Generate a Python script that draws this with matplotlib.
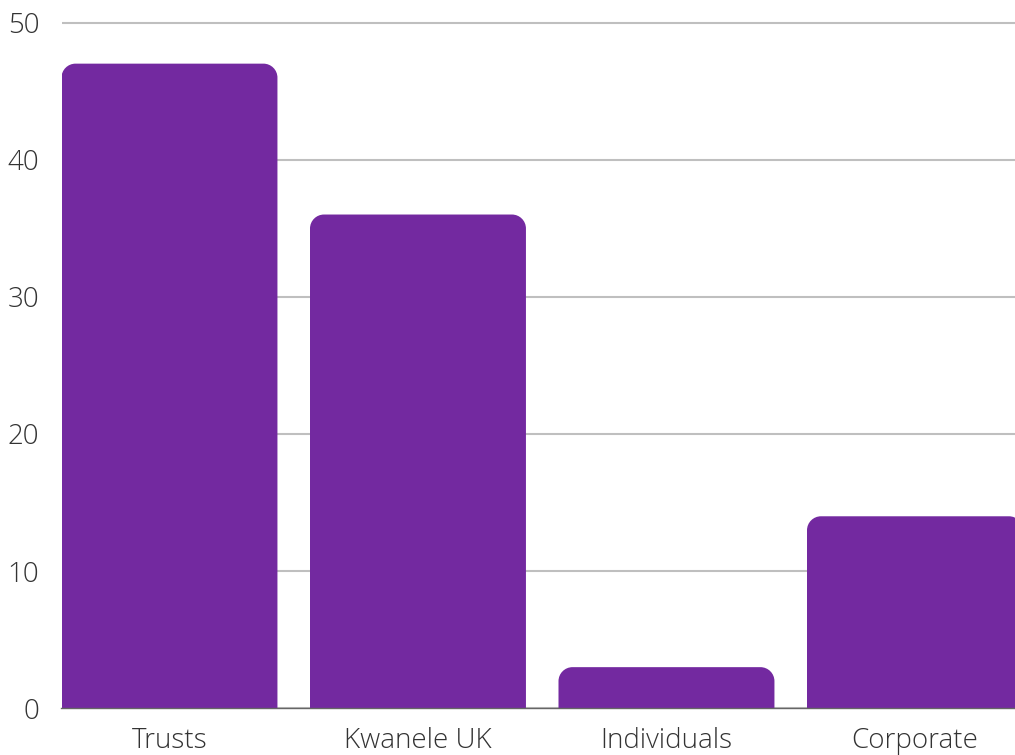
import matplotlib
matplotlib.use('Agg')
import matplotlib.pyplot as plt
from matplotlib.path import Path
from matplotlib.patches import PathPatch

categories = ['Trusts', 'Kwanele UK', 'Individuals', 'Corporate']
values = [47, 36, 3, 14]
yticks = [0, 10, 20, 30, 40, 50]

plt.rcParams['font.family'] = ['Open Sans', 'DejaVu Sans']

W, H = 1015, 755
fig = plt.figure(figsize=(W / 100, H / 100), dpi=100)
left_px, right_px = 61.5, 1015
bottom_px, top_px = H - 708.3, H - 10
ax = fig.add_axes([left_px / W, bottom_px / H, (right_px - left_px) / W, (top_px - bottom_px) / H])

bar_w = 0.869
pitch_px = 248.5
xl = -bar_w / 2
xr = xl + (right_px - left_px) / pitch_px
ax.set_xlim(xl, xr)
px_per_unit = (708.3 - 22.5) / 50
ax.set_ylim(0, (top_px - bottom_px) / px_per_unit)

color = '#7329a0'
x = list(range(len(categories)))
bars = ax.bar(x, values, width=bar_w, color=color, zorder=2)

# rounded top corners (radius in pixels converted through the axes scales)
r_px = 14
rx = r_px / pitch_px
ry = r_px / px_per_unit
k = 0.5523
for b in bars:
    x0, w, h = b.get_x(), b.get_width(), b.get_height()
    b.set_visible(False)
    verts = [
        (x0, 0), (x0, h - ry),
        (x0, h - ry + k * ry), (x0 + rx - k * rx, h), (x0 + rx, h),
        (x0 + w - rx, h),
        (x0 + w - rx + k * rx, h), (x0 + w, h - ry + k * ry), (x0 + w, h - ry),
        (x0 + w, 0), (x0, 0),
    ]
    codes = [Path.MOVETO, Path.LINETO,
             Path.CURVE4, Path.CURVE4, Path.CURVE4,
             Path.LINETO,
             Path.CURVE4, Path.CURVE4, Path.CURVE4,
             Path.LINETO, Path.CLOSEPOLY]
    ax.add_patch(PathPatch(Path(verts, codes), facecolor=color, edgecolor='none', zorder=2))

ax.set_yticks(yticks)
ax.set_xticks(x)
ax.set_xticklabels(categories)
ax.yaxis.grid(True, color='#bfbfbf', linewidth=1.5, zorder=0)
ax.set_axisbelow(True)
for s in ['top', 'right', 'left']:
    ax.spines[s].set_visible(False)
ax.spines['bottom'].set_color('#666666')
ax.spines['bottom'].set_linewidth(1.0)
ax.spines['bottom'].set_zorder(3)
ax.tick_params(axis='both', length=0, labelsize=20, labelcolor='#333333')
ax.tick_params(axis='y', pad=16)
ax.tick_params(axis='x', pad=13.5)
for lab in ax.get_xticklabels() + ax.get_yticklabels():
    lab.set_fontweight('light')

fig.savefig('out.png', dpi=100)
